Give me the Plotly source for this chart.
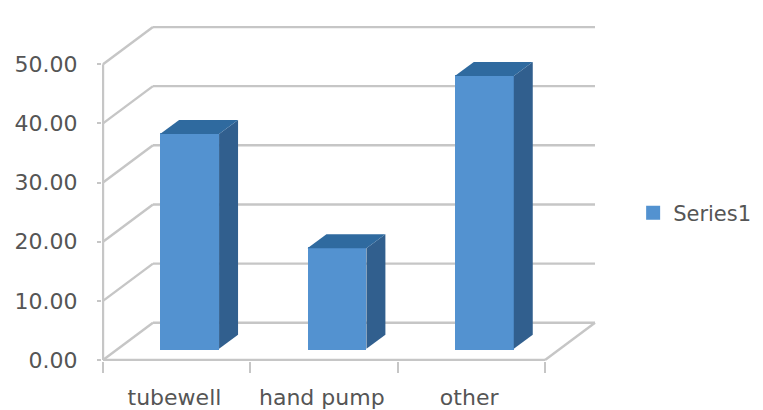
import plotly.graph_objects as go

categories = ["tubewell", "hand pump", "other"]
values = [36.3, 17.0, 46.1]
series_name = "Series1"
y_ticks = [0, 10, 20, 30, 40, 50]

FRONT, SIDE, TOP = "#5392d0", "#315f8e", "#2f6a9f"
GRID = "#c6c6c6"
FONT = dict(family="DejaVu Sans", size=22, color="#555555")

# oblique projection of the depth axis, in axis units
DX, DY = 0.339, 6.29
D0, D1 = 0.30, 0.68
WIDTH = 0.40
BAR_W = 0.386
SHIFT = -0.014
LABEL_SHIFT = -0.015
PX_X, PX_Y = 147.33, 5.88


def proj(x, v, d):
    return x + DX * d, v + DY * d


fig = go.Figure()
n = len(categories)
centers = [i + 0.5 for i in range(n)]
y_max = y_ticks[-1]


def seg(a, b):
    fig.add_trace(go.Scatter(
        x=[a[0], b[0]], y=[a[1], b[1]], mode="lines",
        line=dict(color=GRID, width=2.4),
        showlegend=False, hoverinfo="skip",
    ))


# walls, floor and the two axis lines
for t in y_ticks:
    seg(proj(0, t, 0), proj(0, t, 1))
    seg(proj(0, t, 1), proj(n, t, 1))
seg(proj(n, 0, 0), proj(n, 0, 1))
seg(proj(0, 0, 0), proj(0, y_max, 0))
seg(proj(0, 0, 0), proj(n, 0, 0))

# front faces
fig.add_trace(go.Bar(
    x=[c + DX * D0 + SHIFT for c in centers],
    y=values,
    base=[DY * D0] * n,
    width=BAR_W,
    marker=dict(color=FRONT, line=dict(width=2, color=FRONT)),
    name=series_name,
    showlegend=True,
    hoverinfo="skip",
    xaxis="x2", yaxis="y2",
))

# side and top faces
for c, v in zip(centers, values):
    x0 = c + SHIFT - WIDTH / 2
    x1 = c + SHIFT + WIDTH / 2
    side = [proj(x1, 0, D0), proj(x1, 0, D1), proj(x1, v, D1), proj(x1, v, D0)]
    top = [proj(x0, v, D0), proj(x1, v, D0), proj(x1, v, D1), proj(x0, v, D1)]
    for poly, col in ((side, SIDE), (top, TOP)):
        fig.add_trace(go.Scatter(
            x=[p[0] for p in poly] + [poly[0][0]],
            y=[p[1] for p in poly] + [poly[0][1]],
            mode="lines", fill="toself", fillcolor=col,
            line=dict(width=0, color=col),
            showlegend=False, hoverinfo="skip",
            xaxis="x2", yaxis="y2",
        ))

x_range = [-1 / PX_X, n + DX + 1 / PX_X]
y_range = [-1 / PX_Y, y_max + DY + 1 / PX_Y]

# the page has an 8 px body margin
fig.update_layout(
    width=755, height=402,
    margin=dict(l=94, r=755 - 588, t=18, b=402 - 353),
    paper_bgcolor="white", plot_bgcolor="rgba(0,0,0,0)",
    bargap=0,
    xaxis=dict(
        range=x_range, showgrid=False, zeroline=False, automargin=False,
        tickmode="array", tickvals=[c + LABEL_SHIFT for c in centers], ticktext=categories,
        ticks="", showline=False,
        tickfont=FONT, ticklabelstandoff=21,
        minor=dict(tickmode="array", tickvals=list(range(n + 1)), ticks="outside",
                   ticklen=11, tickcolor=GRID, tickwidth=2, showgrid=False),
    ),
    yaxis=dict(
        range=y_range, showgrid=False, zeroline=False, automargin=False,
        tickmode="array", tickvals=y_ticks, tickformat=".2f",
        ticks="outside", ticklen=4, tickcolor=GRID, tickwidth=2,
        showline=False,
        tickfont=FONT, ticklabelstandoff=15,
    ),
    xaxis2=dict(range=x_range, overlaying="x", visible=False),
    yaxis2=dict(range=y_range, overlaying="y", visible=False),
    legend=dict(xref="container", yref="container", x=0.828, y=0.49,
                yanchor="middle", xanchor="left",
                font=dict(family="DejaVu Sans", size=21, color="#555555"),
                itemwidth=30, bgcolor="rgba(0,0,0,0)"),
    showlegend=True,
)
fig.write_html("out.html")
